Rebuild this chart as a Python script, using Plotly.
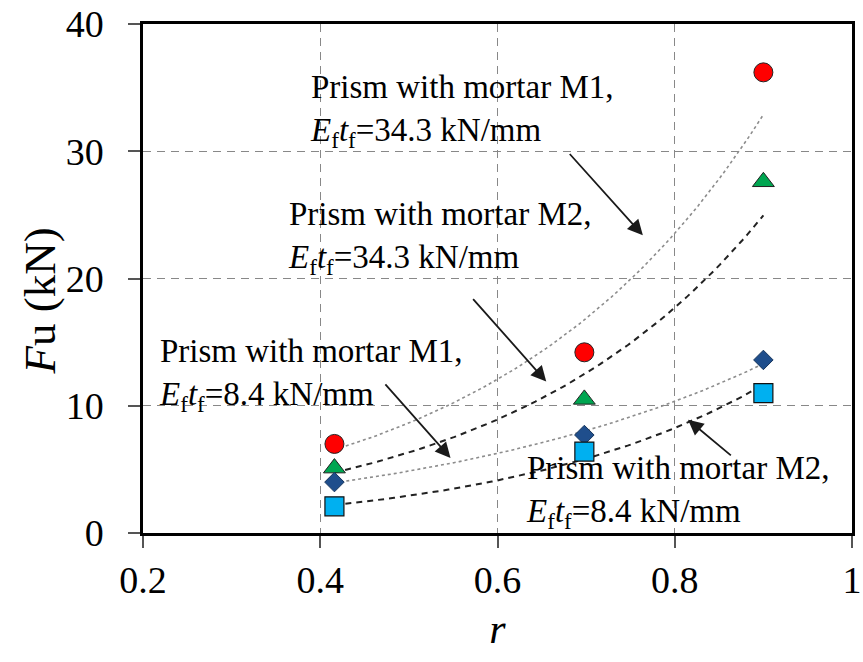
import numpy as np
import plotly.graph_objects as go

r_vals = [0.416, 0.698, 0.900]
fu_m1_343 = [7.0, 14.2, 36.2]   # red circles
fu_m2_343 = [5.1, 10.5, 27.6]   # green triangles
fu_m1_84 = [4.0, 7.7, 13.6]     # dark blue diamonds
fu_m2_84 = [2.1, 6.4, 11.0]     # cyan squares

x_ticks = [0.2, 0.4, 0.6, 0.8, 1.0]
x_tick_text = ["0.2", "0.4", "0.6", "0.8", "1"]
y_ticks = [0, 10, 20, 30, 40]

SERIF = "Liberation Serif, Times New Roman, serif"

def exp_fit(x, y):
    x = np.asarray(x)
    b, a = np.polyfit(x, np.log(np.asarray(y)), 1)
    xs = np.linspace(x.min(), x.max(), 80)
    return xs, np.exp(a + b * xs)

fig = go.Figure()

trend_styles = [
    (fu_m1_343, dict(color="#8c8c8c", width=1.6, dash="dot")),
    (fu_m2_343, dict(color="#222222", width=2, dash="6px,5px")),
    (fu_m1_84, dict(color="#8c8c8c", width=1.6, dash="dot")),
    (fu_m2_84, dict(color="#222222", width=2, dash="6px,5px")),
]
for ys, ln in trend_styles:
    xs, yf = exp_fit(r_vals, ys)
    fig.add_trace(go.Scatter(x=xs, y=yf, mode="lines", line=ln,
                             showlegend=False, hoverinfo="skip"))

marker_styles = [
    (fu_m1_343, dict(symbol="circle", size=19, color="#ff0000", line=dict(color="#222", width=1))),
    (fu_m2_343, dict(symbol="triangle-up", size=19, color="#00a651", line=dict(color="#222", width=1))),
    (fu_m1_84, dict(symbol="diamond", size=15, color="#1f4e8c", line=dict(color="#17365d", width=1))),
    (fu_m2_84, dict(symbol="square", size=19, color="#00b0f0", line=dict(color="#111", width=1.2))),
]
for ys, mk in marker_styles:
    fig.add_trace(go.Scatter(x=r_vals, y=ys, mode="markers", marker=mk,
                             showlegend=False))

labels = [
    ("Prism with mortar M1,<br><i>E</i><sub>f</sub><i>t</i><sub>f</sub>=34.3 kN/mm", 0.386, 33.2),
    ("Prism with mortar M2,<br><i>E</i><sub>f</sub><i>t</i><sub>f</sub>=34.3 kN/mm", 0.361, 23.2),
    ("Prism with mortar M1,<br><i>E</i><sub>f</sub><i>t</i><sub>f</sub>=8.4 kN/mm", 0.216, 12.4),
    ("Prism with mortar M2,<br><i>E</i><sub>f</sub><i>t</i><sub>f</sub>=8.4 kN/mm", 0.630, 3.2),
]
for txt, x, y in labels:
    fig.add_annotation(x=x, y=y, text=txt, showarrow=False, xanchor="left",
                       yanchor="middle", align="left",
                       font=dict(family=SERIF, size=33, color="black"))

arrows = [
    (0.764, 23.4, 0.680, 29.9),
    (0.655, 11.9, 0.571, 18.5),
    (0.547, 5.9, 0.472, 11.8),
    (0.815, 8.9, 0.865, 6.0),
]
for x, y, ax, ay in arrows:
    fig.add_annotation(x=x, y=y, ax=ax, ay=ay, axref="x", ayref="y",
                       text="", showarrow=True, arrowhead=2, arrowsize=1.7,
                       arrowwidth=1.8, arrowcolor="#1a1a1a")

# y-axis title placed as a rotated annotation
fig.add_annotation(xref="paper", yref="paper", x=-0.145, y=0.455,
                   text="<i>F</i>u (kN)", textangle=-90, showarrow=False,
                   xanchor="center", yanchor="middle",
                   font=dict(family=SERIF, size=45, color="black"))

fig.update_xaxes(range=[0.2, 1.0], tickvals=x_ticks, ticktext=x_tick_text,
                 automargin=False, ticklabeloverflow="allow",
                 showline=True, linecolor="black", linewidth=2.5, mirror=True,
                 ticks="outside", ticklen=12, tickcolor="#555", tickwidth=1.5,
                 ticklabelstandoff=0,
                 showgrid=True, gridcolor="#888", griddash="8px,6px", gridwidth=1,
                 zeroline=False,
                 tickfont=dict(family=SERIF, size=38, color="black"),
                 title=dict(text="<i>r</i>", font=dict(family=SERIF, size=42, color="black"),
                            standoff=14))
fig.update_yaxes(range=[0, 40], tickvals=y_ticks,
                 automargin=False, ticklabeloverflow="allow",
                 showline=True, linecolor="black", linewidth=2.5, mirror=True,
                 ticks="outside", ticklen=12, tickcolor="#555", tickwidth=1.5,
                 ticklabelstandoff=17,
                 showgrid=True, gridcolor="#888", griddash="8px,6px", gridwidth=1,
                 zeroline=False,
                 tickfont=dict(family=SERIF, size=38, color="black"))

fig.update_layout(width=863, height=662, margin=dict(l=143, r=11, t=24, b=129),
                  plot_bgcolor="white", paper_bgcolor="white")

fig.write_html("out.html")
